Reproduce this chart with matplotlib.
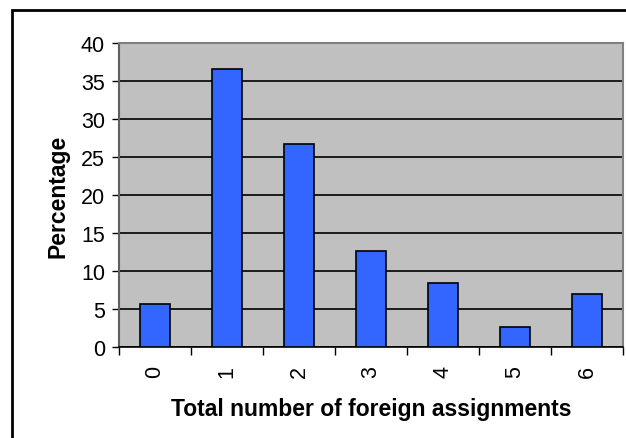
import matplotlib
matplotlib.use("Agg")
import matplotlib.pyplot as plt
from matplotlib.patches import Rectangle

assignments = ["0", "1", "2", "3", "4", "5", "6"]
percentage = [5.7, 36.6, 26.7, 12.7, 8.4, 2.7, 7.0]
y_ticks = [0, 5, 10, 15, 20, 25, 30, 35, 40]

plt.rcParams["font.family"] = ["Liberation Sans", "DejaVu Sans"]

fig = plt.figure(figsize=(6.26, 4.39), dpi=100)
ax = fig.add_axes([0.190, 0.207, 0.805, 0.693])

# outer chart frame (runs off the right and bottom edges)
fig.patches.append(Rectangle((12 / 626, -0.05), 1.2, 1 - 11 / 439 + 0.05,
                             transform=fig.transFigure, fill=False,
                             edgecolor="black", linewidth=2, zorder=0))

ax.set_facecolor("#C0C0C0")
xs = range(len(assignments))
ax.bar(xs, percentage, width=0.42, color="#3366FF", edgecolor="black",
       linewidth=1.2, zorder=3)

ax.set_xlim(-0.5, len(assignments) - 0.5)
ax.set_ylim(0, 40)
ax.set_yticks(y_ticks)
ax.yaxis.grid(True, color="black", linewidth=1.2, zorder=1)
ax.set_axisbelow(True)

ax.set_xticks(list(xs))
ax.set_xticklabels(assignments, rotation=90, fontsize=15.5)
ax.tick_params(axis="x", length=0, pad=13)
# category boundary ticks
ax.set_xticks([i - 0.5 for i in range(len(assignments) + 1)], minor=True)
ax.tick_params(axis="x", which="minor", length=6, color="black", width=1)
ax.tick_params(axis="y", labelsize=15.5, length=5, color="black", width=1, pad=5)

for side in ["top", "right"]:
    ax.spines[side].set_color("#808080")
    ax.spines[side].set_linewidth(1.5)
ax.spines["left"].set_color("#606060")
ax.spines["left"].set_linewidth(1.5)
ax.spines["bottom"].set_color("black")
ax.spines["bottom"].set_linewidth(1.2)

ax.set_xlabel("Total number of foreign assignments", fontsize=16.5,
              fontweight="bold", labelpad=14)
ax.set_ylabel("Percentage", fontsize=16.5, fontweight="bold", labelpad=8)

fig.savefig("out.png", dpi=100)
